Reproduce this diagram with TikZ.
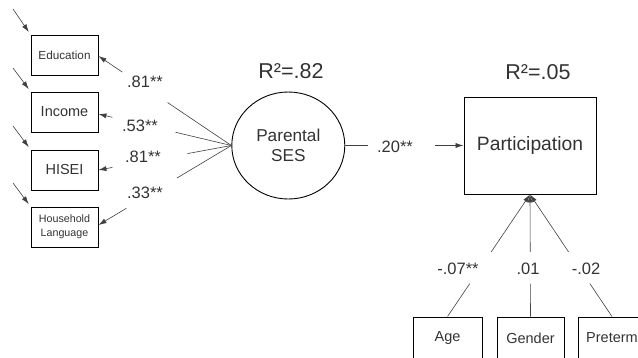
\documentclass[tikz,border=0pt]{standalone}
\usepackage{fontspec}
\setmainfont{Liberation Sans}
\usetikzlibrary{arrows.meta,calc,shapes.geometric}
\definecolor{textgray}{HTML}{333333}
\definecolor{linegray}{HTML}{404040}
\begin{document}
\begin{tikzpicture}[x=1pt,y=-1pt,
  lbl/.style={text=textgray, inner sep=0pt, font=\fontsize{16.5}{19}\selectfont},
  obs/.style={draw=black, line width=0.9pt, minimum width=67pt, minimum height=40pt, inner sep=0pt, text=textgray, align=center},
  conn/.style={draw=linegray, line width=0.6pt},
  tipa/.style={-{Latex[length=8pt,width=5pt]}},
]
\useasboundingbox (0,0) rectangle (638,357);
\clip (0,0) rectangle (638,357);

% observed indicators
\node[obs, font=\fontsize{11.7}{14}\selectfont] (edu) at (64.5,55) {Education};
\node[obs, font=\fontsize{14.5}{17}\selectfont] (inc) at (64.5,112) {Income};
\node[obs, font=\fontsize{14.5}{17}\selectfont] (hisei) at (64.5,170) {HISEI};
\node[obs, font=\fontsize{10.7}{14}\selectfont] (hl) at (64.5,227) {Household\\Language};

% error arrows
\coordinate (e1) at (13,9);
\coordinate (e2) at (13,68);
\coordinate (e3) at (13,126);
\coordinate (e4) at (13,183);
\draw[conn, tipa, shorten >=3pt] (e1) -- (edu.north west);
\draw[conn, tipa, shorten >=3pt] (e2) -- (inc.north west);
\draw[conn, tipa, shorten >=3pt] (e3) -- (hisei.north west);
\draw[conn, tipa, shorten >=3pt] (e4) -- (hl.north west);

% latent
\node[draw=black, line width=0.9pt, ellipse, minimum width=113pt, minimum height=107pt, inner sep=0pt,
      align=center, text=textgray, font=\fontsize{17.2}{20}\selectfont] (ses) at (288.3,145.5) {Parental\\SES};
\node[lbl, font=\fontsize{21.5}{24}\selectfont] (r1) at (291,71) {R²=.82};

% loadings
\coordinate (t1) at ($(edu.east)+(0,1)$);
\coordinate (t2) at ($(inc.east)+(0,2)$);
\coordinate (t3) at (hisei.east);
\coordinate (t4) at ($(hl.east)+(0,-2)$);
\draw[conn] (ses.west) -- ($(ses.west)!0.48!(t1)$);
\draw[conn, tipa] ($(ses.west)!0.82!(t1)$) -- (t1);
\draw[conn] (ses.west) -- ($(ses.west)!0.42!(t2)$);
\draw[conn, tipa] ($(ses.west)!0.895!(t2)$) -- (t2);
\draw[conn] (ses.west) -- ($(ses.west)!0.33!(t3)$);
\draw[conn, tipa] ($(ses.west)!0.895!(t3)$) -- (t3);
\draw[conn] (ses.west) -- ($(ses.west)!0.41!(t4)$);
\draw[conn, tipa] ($(ses.west)!0.79!(t4)$) -- (t4);
\node[lbl] (l1) at (145,82) {.81**};
\node[lbl] (l2) at (140,126) {.53**};
\node[lbl] (l3) at (143,157) {.81**};
\node[lbl] (l4) at (145,193) {.33**};

% outcome
\node[draw=black, line width=0.9pt, minimum width=132pt, minimum height=97pt, inner sep=0pt,
      text=textgray, font=\fontsize{19.3}{23}\selectfont] (part) at (530,145.5) {Participation};
\node[lbl, font=\fontsize{21.5}{24}\selectfont] (r2) at (538,72) {R²=.05};

\draw[conn] (ses.east) -- ($(ses.east)!0.19!(part.west)$);
\draw[conn, tipa] ($(ses.east)!0.76!(part.west)$) -- (part.west);
\node[lbl] (l5) at (395,147) {.20**};

% covariates
\node[obs, minimum width=69pt, minimum height=42pt, font=\fontsize{14.5}{17}\selectfont] (age) at (447.5,338) {Age};
\node[obs, minimum width=67pt, minimum height=42pt, font=\fontsize{14.5}{17}\selectfont] (gen) at (530.5,338) {Gender};
\node[obs, minimum width=68pt, minimum height=42pt, font=\fontsize{14.5}{17}\selectfont] (pre) at (612,338) {Preterm};

\draw[conn] (age.north) -- ($(age.north)!0.27!(part.south)$);
\draw[conn, tipa] ($(age.north)!0.53!(part.south)$) -- (part.south);
\draw[conn] (gen.north) -- ($(gen.north)!0.27!(part.south)$);
\draw[conn, tipa] ($(gen.north)!0.53!(part.south)$) -- (part.south);
\draw[conn] (pre.north) -- ($(pre.north)!0.27!(part.south)$);
\draw[conn, tipa] ($(pre.north)!0.53!(part.south)$) -- (part.south);
\node[lbl] (l6) at (458,269) {-.07**};
\node[lbl] (l7) at (528,269) {.01};
\node[lbl] (l8) at (586,269) {-.02};
\end{tikzpicture}
\end{document}
